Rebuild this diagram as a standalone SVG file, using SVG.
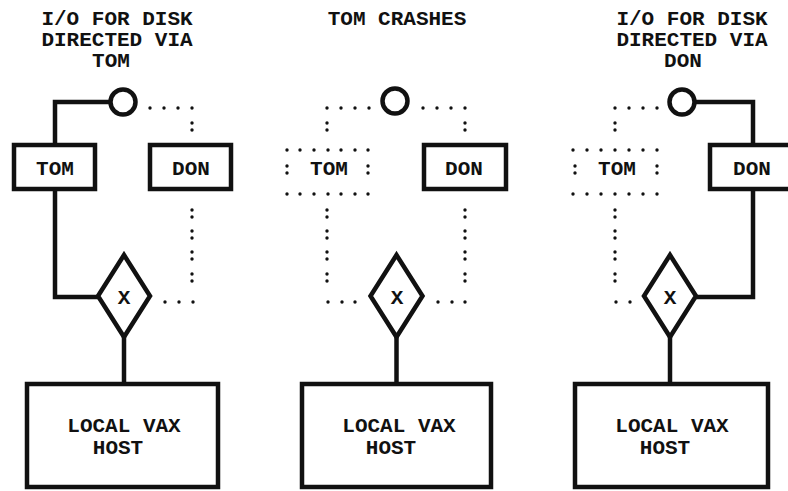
<svg xmlns="http://www.w3.org/2000/svg" width="788" height="491" viewBox="0 0 788 491">
<style>
  .t { font-family: "Liberation Mono", "Courier New", monospace; font-weight: bold; font-size: 21px; fill: #111; text-anchor: middle; }
  .box { fill: #fff; stroke: #111; stroke-width: 4.5; }
  .ln { fill: none; stroke: #111; stroke-width: 4.5; stroke-linejoin: miter; }
  .d { fill: #111; }
</style>
<defs>
  <circle id="dot" r="1.7" class="d"/>
</defs>
<rect width="788" height="491" fill="#fff"/>

<!-- titles -->
<g id="title1">
  <text class="t" x="117" y="25">I/O FOR DISK</text>
  <text class="t" x="117" y="46">DIRECTED VIA</text>
  <text class="t" x="111" y="67">TOM</text>
</g>
<g id="title2">
  <text class="t" x="397" y="25">TOM CRASHES</text>
</g>
<g id="title3">
  <text class="t" x="692" y="25">I/O FOR DISK</text>
  <text class="t" x="692" y="46">DIRECTED VIA</text>
  <text class="t" x="683" y="67">DON</text>
</g>

<!-- connectors -->
<g id="connectors">
  <!-- panel 1 solid -->
  <path class="ln" d="M110,102 H55 V145"/>
  <path class="ln" d="M55,189 V297 H99"/>
  <path class="ln" d="M124,336 V384"/>
  <!-- panel 2 solid -->
  <path class="ln" d="M396.5,336 V384"/>
  <!-- panel 3 solid -->
  <path class="ln" d="M695,102 H753 V145"/>
  <path class="ln" d="M753,189 V297 H695"/>
  <path class="ln" d="M670,336 V384"/>

  <!-- dotted (failed / unused) paths -->
  <g id="dots">
    <!-- panel 1 -->
    <use href="#dot" x="150" y="108"/><use href="#dot" x="164" y="108"/><use href="#dot" x="178" y="108"/><use href="#dot" x="192" y="108"/>
    <use href="#dot" x="192" y="123"/><use href="#dot" x="192" y="130"/>
    <use href="#dot" x="192" y="210"/><use href="#dot" x="192" y="217"/>
    <use href="#dot" x="192" y="231"/><use href="#dot" x="192" y="238"/>
    <use href="#dot" x="192" y="252"/><use href="#dot" x="192" y="259"/>
    <use href="#dot" x="192" y="274"/><use href="#dot" x="192" y="281"/>
    <use href="#dot" x="165" y="302"/><use href="#dot" x="179" y="302"/><use href="#dot" x="193" y="302"/>

    <!-- panel 2 -->
    <use href="#dot" x="327" y="108"/><use href="#dot" x="341" y="108"/><use href="#dot" x="355" y="108"/><use href="#dot" x="369" y="108"/>
    <use href="#dot" x="423" y="108"/><use href="#dot" x="437" y="108"/><use href="#dot" x="451" y="108"/><use href="#dot" x="465" y="108"/>
    <use href="#dot" x="327" y="123"/><use href="#dot" x="327" y="130"/>
    <use href="#dot" x="465" y="123"/><use href="#dot" x="465" y="130"/>
    <use href="#dot" x="327" y="210"/><use href="#dot" x="327" y="217"/>
    <use href="#dot" x="327" y="231"/><use href="#dot" x="327" y="238"/>
    <use href="#dot" x="327" y="252"/><use href="#dot" x="327" y="259"/>
    <use href="#dot" x="327" y="274"/><use href="#dot" x="327" y="281"/>
    <use href="#dot" x="465" y="210"/><use href="#dot" x="465" y="217"/>
    <use href="#dot" x="465" y="231"/><use href="#dot" x="465" y="238"/>
    <use href="#dot" x="465" y="252"/><use href="#dot" x="465" y="259"/>
    <use href="#dot" x="465" y="274"/><use href="#dot" x="465" y="281"/>
    <use href="#dot" x="328" y="302"/><use href="#dot" x="342" y="302"/><use href="#dot" x="355" y="302"/>
    <use href="#dot" x="438" y="302"/><use href="#dot" x="452" y="302"/><use href="#dot" x="465" y="302"/>

    <!-- panel 3 -->
    <use href="#dot" x="615" y="108"/><use href="#dot" x="629" y="108"/><use href="#dot" x="643" y="108"/><use href="#dot" x="657" y="108"/>
    <use href="#dot" x="615" y="123"/><use href="#dot" x="615" y="130"/>
    <use href="#dot" x="615" y="210"/><use href="#dot" x="615" y="217"/>
    <use href="#dot" x="615" y="231"/><use href="#dot" x="615" y="238"/>
    <use href="#dot" x="615" y="252"/><use href="#dot" x="615" y="259"/>
    <use href="#dot" x="615" y="274"/><use href="#dot" x="615" y="281"/>
    <use href="#dot" x="616" y="302"/><use href="#dot" x="630" y="302"/>
  </g>
</g>

<!-- panel 1 nodes -->
<g id="p1-disk"><circle class="box" cx="123" cy="102" r="12.5"/></g>
<g id="p1-tom">
  <rect class="box" x="14" y="145" width="81" height="44"/>
  <text class="t" x="55" y="175">TOM</text>
</g>
<g id="p1-don">
  <rect class="box" x="150" y="145" width="81" height="44"/>
  <text class="t" x="191" y="175">DON</text>
</g>
<g id="p1-switch">
  <polygon class="box" points="124,255 150,296 124,337 98,296"/>
  <text class="t" x="124" y="304">X</text>
</g>
<g id="p1-host">
  <rect class="box" x="27" y="384" width="191" height="103"/>
  <text class="t" x="124" y="432">LOCAL VAX</text>
  <text class="t" x="118" y="454">HOST</text>
</g>

<!-- panel 2 nodes -->
<g id="p2-disk"><circle class="box" cx="395" cy="101" r="12.5"/></g>
<g id="p2-tom">
  <g>
    <use href="#dot" x="287" y="150"/><use href="#dot" x="300" y="150"/><use href="#dot" x="314" y="150"/><use href="#dot" x="328" y="150"/><use href="#dot" x="341" y="150"/><use href="#dot" x="355" y="150"/><use href="#dot" x="368" y="150"/>
    <use href="#dot" x="287" y="194"/><use href="#dot" x="300" y="194"/><use href="#dot" x="314" y="194"/><use href="#dot" x="328" y="194"/><use href="#dot" x="341" y="194"/><use href="#dot" x="355" y="194"/><use href="#dot" x="368" y="194"/>
    <use href="#dot" x="287" y="166"/><use href="#dot" x="287" y="173"/>
    <use href="#dot" x="368" y="166"/><use href="#dot" x="368" y="173"/>
  </g>
  <text class="t" x="329" y="175">TOM</text>
</g>
<g id="p2-don">
  <rect class="box" x="424" y="145" width="82" height="44"/>
  <text class="t" x="464" y="175">DON</text>
</g>
<g id="p2-switch">
  <polygon class="box" points="396.5,255 422.5,296 396.5,337 370.5,296"/>
  <text class="t" x="397" y="304">X</text>
</g>
<g id="p2-host">
  <rect class="box" x="302" y="384" width="189" height="103"/>
  <text class="t" x="399" y="432">LOCAL VAX</text>
  <text class="t" x="391" y="454">HOST</text>
</g>

<!-- panel 3 nodes -->
<g id="p3-disk"><circle class="box" cx="682" cy="102" r="12.5"/></g>
<g id="p3-tom">
  <g>
    <use href="#dot" x="573" y="150"/><use href="#dot" x="587" y="150"/><use href="#dot" x="601" y="150"/><use href="#dot" x="615" y="150"/><use href="#dot" x="629" y="150"/><use href="#dot" x="643" y="150"/><use href="#dot" x="657" y="150"/>
    <use href="#dot" x="573" y="194"/><use href="#dot" x="587" y="194"/><use href="#dot" x="601" y="194"/><use href="#dot" x="615" y="194"/><use href="#dot" x="629" y="194"/><use href="#dot" x="643" y="194"/><use href="#dot" x="657" y="194"/>
    <use href="#dot" x="575" y="166"/><use href="#dot" x="575" y="173"/>
    <use href="#dot" x="657" y="166"/><use href="#dot" x="657" y="173"/>
  </g>
  <text class="t" x="617" y="175">TOM</text>
</g>
<g id="p3-don">
  <rect class="box" x="710" y="145" width="86" height="44"/>
  <text class="t" x="752" y="175">DON</text>
</g>
<g id="p3-switch">
  <polygon class="box" points="670,255 696,296 670,337 644,296"/>
  <text class="t" x="670" y="304">X</text>
</g>
<g id="p3-host">
  <rect class="box" x="575" y="384" width="193" height="103"/>
  <text class="t" x="672" y="432">LOCAL VAX</text>
  <text class="t" x="665" y="454">HOST</text>
</g>
</svg>
